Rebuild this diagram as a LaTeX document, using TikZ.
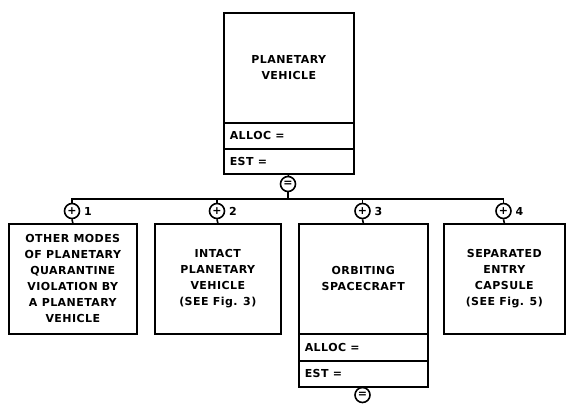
\documentclass[tikz,border=0pt]{standalone}
\usepackage{fontspec}
\setmainfont{DejaVu Sans}[LetterSpace=4]
\begin{document}
\begin{tikzpicture}[x=1pt,y=-1pt,line width=1.6pt,
  txt/.style={font=\bfseries\fontsize{11}{16}\selectfont},
  box/.style={draw,anchor=north west,align=center,inner sep=0pt,txt},
  row/.style={draw,anchor=north west,inner sep=0pt,txt,text depth=0pt},
  gate/.style={draw,circle,minimum size=15pt,inner sep=0pt,font=\bfseries\fontsize{11}{11}\selectfont},
  num/.style={anchor=west,inner sep=0pt,txt}]
\useasboundingbox (0,0) rectangle (566,405);
% top box
\node[box,minimum width=130pt,minimum height=110pt] (top) at (223,12) {PLANETARY\\VEHICLE};
\node[row,minimum width=130pt,minimum height=26pt] (topa) at (223,122) {};
\node[anchor=west,txt,inner sep=0pt] (topat) at ([xshift=6pt]topa.west) {ALLOC =};
\node[row,minimum width=130pt,minimum height=25pt] (tope) at (223,148) {};
\node[anchor=west,txt,inner sep=0pt] (topet) at ([xshift=6pt]tope.west) {EST =};
\node[gate] (g0) at (288,184) {=};
\coordinate (bar) at (288,199);
% children
\node[box,minimum width=128pt,minimum height=110pt] (b1) at (8,223) {OTHER MODES\\OF PLANETARY\\QUARANTINE\\VIOLATION BY\\A PLANETARY\\VEHICLE};
\node[box,minimum width=126pt,minimum height=110pt] (b2) at (154,223) {INTACT\\PLANETARY\\VEHICLE\\(SEE Fig. 3)};
\node[box,minimum width=129pt,minimum height=110pt] (b3) at (298,223) {ORBITING\\SPACECRAFT};
\node[row,minimum width=129pt,minimum height=27pt] (b3a) at (298,333) {};
\node[anchor=west,txt,inner sep=0pt] (b3at) at ([xshift=6pt]b3a.west) {ALLOC =};
\node[row,minimum width=129pt,minimum height=26pt] (b3e) at (298,360) {};
\node[anchor=west,txt,inner sep=0pt] (b3et) at ([xshift=6pt]b3e.west) {EST =};
\node[box,minimum width=121pt,minimum height=110pt] (b4) at (443,223) {SEPARATED\\ENTRY\\CAPSULE\\(SEE Fig. 5)};
\node[gate] (g1) at (72,211) {+};
\node[gate] (g2) at (217,211) {+};
\node[gate] (g3) at (362.5,211) {+};
\node[gate] (g4) at (503.5,211) {+};
\node[gate] (g5) at (362.5,395) {=};
\node[num] (n1) at ([xshift=3pt]g1.east) {1};
\node[num] (n2) at ([xshift=3pt]g2.east) {2};
\node[num] (n3) at ([xshift=3pt]g3.east) {3};
\node[num] (n4) at ([xshift=3pt]g4.east) {4};
% connectors
\draw (tope.south) -- (g0.north);
\draw (g0.south) -- (bar);
\draw (g1.north) -- (g1.north |- bar) -- (g4.north |- bar) -- (g4.north);
\draw (g2.north) -- (g2.north |- bar);
\draw (g3.north) -- (g3.north |- bar);
\draw (g1.south) -- (b1.north);
\draw (g2.south) -- (b2.north);
\draw (g3.south) -- (b3.north);
\draw (g4.south) -- (b4.north);
\draw (b3e.south) -- (g5.north);
\end{tikzpicture}
\end{document}
